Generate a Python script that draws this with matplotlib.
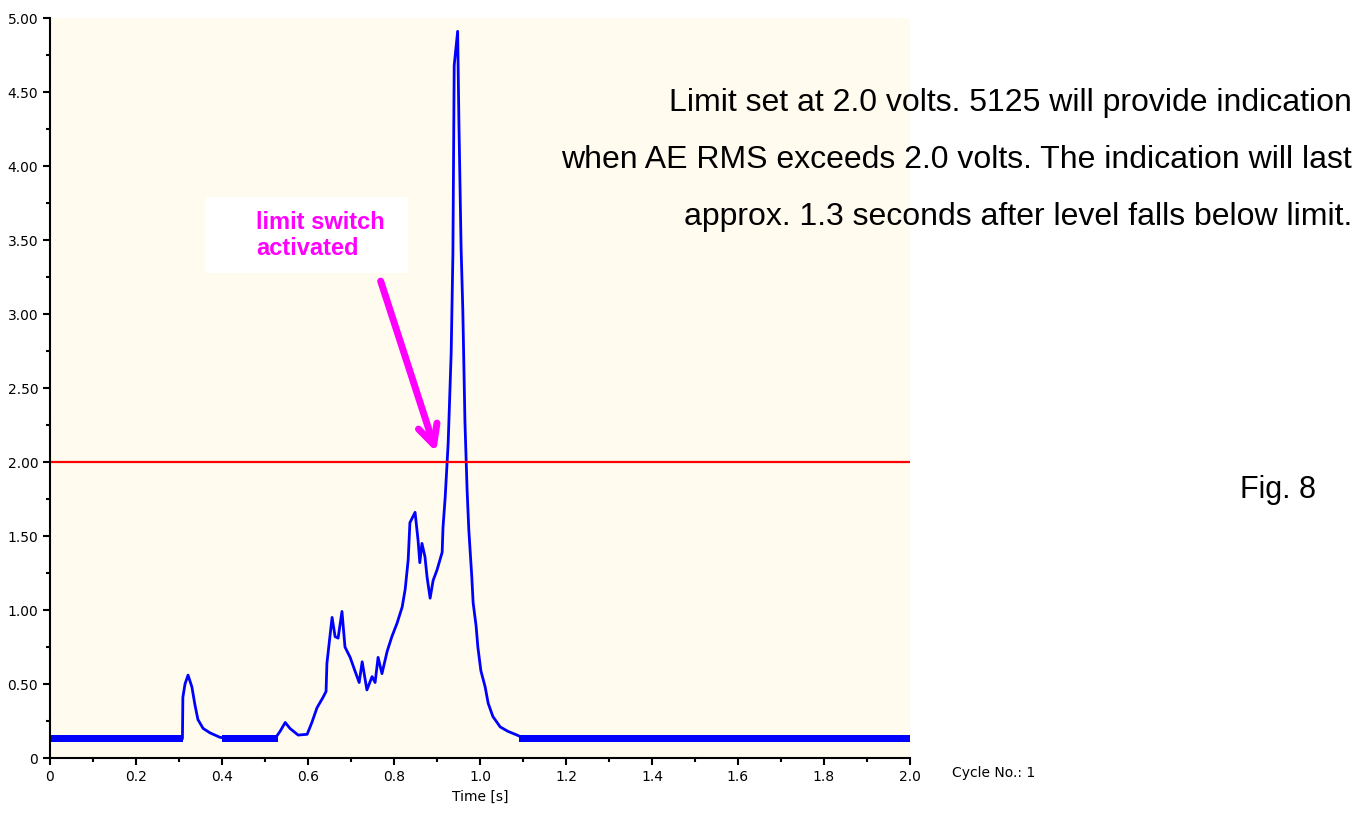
import numpy as np
import matplotlib
matplotlib.use("Agg")
import matplotlib.pyplot as plt
from matplotlib.ticker import MultipleLocator
from matplotlib.patches import Rectangle

# AE RMS trace (time [s], volts)
time_s = [0.0, 0.308, 0.309, 0.314, 0.321, 0.330, 0.337, 0.344, 0.356, 0.372, 0.395, 0.419,
          0.523, 0.535, 0.547, 0.558, 0.577, 0.598, 0.609, 0.621, 0.635, 0.642, 0.644, 0.656,
          0.663, 0.670, 0.679, 0.686, 0.698, 0.709, 0.719, 0.726, 0.737, 0.749, 0.756, 0.763,
          0.772, 0.784, 0.795, 0.807, 0.819, 0.826, 0.833, 0.837, 0.849, 0.856, 0.860, 0.865,
          0.872, 0.877, 0.884, 0.891, 0.900, 0.912, 0.914, 0.919, 0.923, 0.926, 0.933, 0.937,
          0.940, 0.948, 0.951, 0.956, 0.960, 0.965, 0.970, 0.974, 0.981, 0.984, 0.991, 0.995,
          1.002, 1.012, 1.019, 1.030, 1.047, 1.065, 1.086, 1.105, 2.0]
ae_rms = [0.13, 0.13, 0.41, 0.50, 0.56, 0.48, 0.36, 0.26, 0.20, 0.17, 0.14, 0.13,
          0.13, 0.18, 0.24, 0.20, 0.155, 0.16, 0.24, 0.34, 0.41, 0.45, 0.64, 0.95,
          0.82, 0.81, 0.99, 0.75, 0.68, 0.59, 0.51, 0.65, 0.46, 0.55, 0.51, 0.68,
          0.57, 0.72, 0.82, 0.91, 1.02, 1.14, 1.34, 1.59, 1.66, 1.47, 1.32, 1.45,
          1.36, 1.22, 1.08, 1.20, 1.27, 1.39, 1.56, 1.76, 1.97, 2.13, 2.74, 3.41,
          4.68, 4.91, 4.29, 3.45, 3.03, 2.27, 1.81, 1.54, 1.22, 1.05, 0.89, 0.75,
          0.59, 0.48, 0.37, 0.28, 0.21, 0.18, 0.155, 0.13, 0.13]

# noisy flat baseline segments (start, end) and band limits
flat_start = [0.0, 0.40, 1.09]
flat_end = [0.309, 0.53, 2.0]
band_lo, band_hi = 0.11, 0.155

limit_v = 2.0

fig = plt.figure(figsize=(13.64, 8.17), dpi=100)
ax = fig.add_axes([50 / 1364, 59 / 817, 860 / 1364, 740 / 817])
ax.set_facecolor("#fffbef")

for s, e in zip(flat_start, flat_end):
    ax.fill_between([s, e], band_lo, band_hi, color="#0000ff", lw=0)
ax.plot(time_s, ae_rms, color="#0000ff", lw=2.0)
ax.axhline(limit_v, color="#ff0000", lw=1.6)

ax.set_xlim(0, 2.0)
ax.set_ylim(0, 5.0)
for side in ["top", "right"]:
    ax.spines[side].set_visible(False)
for side in ["left", "bottom"]:
    ax.spines[side].set_linewidth(1.5)

ax.xaxis.set_minor_locator(MultipleLocator(0.1))
ax.yaxis.set_minor_locator(MultipleLocator(0.25))
xt = np.arange(0, 2.01, 0.2)
ax.set_xticks(xt)
ax.set_xticklabels(["0"] + [f"{v:.1f}" for v in xt[1:]])
yt = np.arange(0, 5.01, 0.5)
ax.set_yticks(yt)
ax.set_yticklabels(["0"] + [f"{v:.2f}" for v in yt[1:]])
ax.tick_params(which="major", length=5, width=1.5, labelsize=10)
ax.tick_params(which="minor", length=3, width=1.5)
ax.set_xlabel("Time [s]", fontsize=10, labelpad=4)

# annotation box and arrow
ax.add_patch(Rectangle((0.36, 3.28), 0.473, 0.51, fc="white", ec="none", zorder=3))
ax.text(0.479, 3.53, "limit switch\nactivated", color="#ff00ff", fontsize=17,
        fontweight="bold", family="Liberation Sans", va="center", ha="left",
        linespacing=1.2, zorder=4)
ax.annotate("", xy=(0.90, 2.05), xytext=(0.767, 3.24),
            arrowprops=dict(arrowstyle="->,head_length=1.4,head_width=0.7",
                            color="#ff00ff", lw=5))

fig.text(1035 / 1364, 1 - 773 / 817, "Cycle No.: 1", fontsize=10, ha="right", va="center")

lines = ["Limit set at 2.0 volts. 5125 will provide indication",
         "when AE RMS exceeds 2.0 volts. The indication will last",
         "approx. 1.3 seconds after level falls below limit."]
for i, txt in enumerate(lines):
    fig.text(1352 / 1364, 1 - (103 + 57 * i) / 817, txt, fontsize=23,
             family="Liberation Sans", ha="right", va="center")
fig.text(1240 / 1364, 1 - 490 / 817, "Fig. 8", fontsize=22,
         family="Liberation Sans", ha="left", va="center")

fig.savefig("out.png", dpi=100, facecolor="white")
